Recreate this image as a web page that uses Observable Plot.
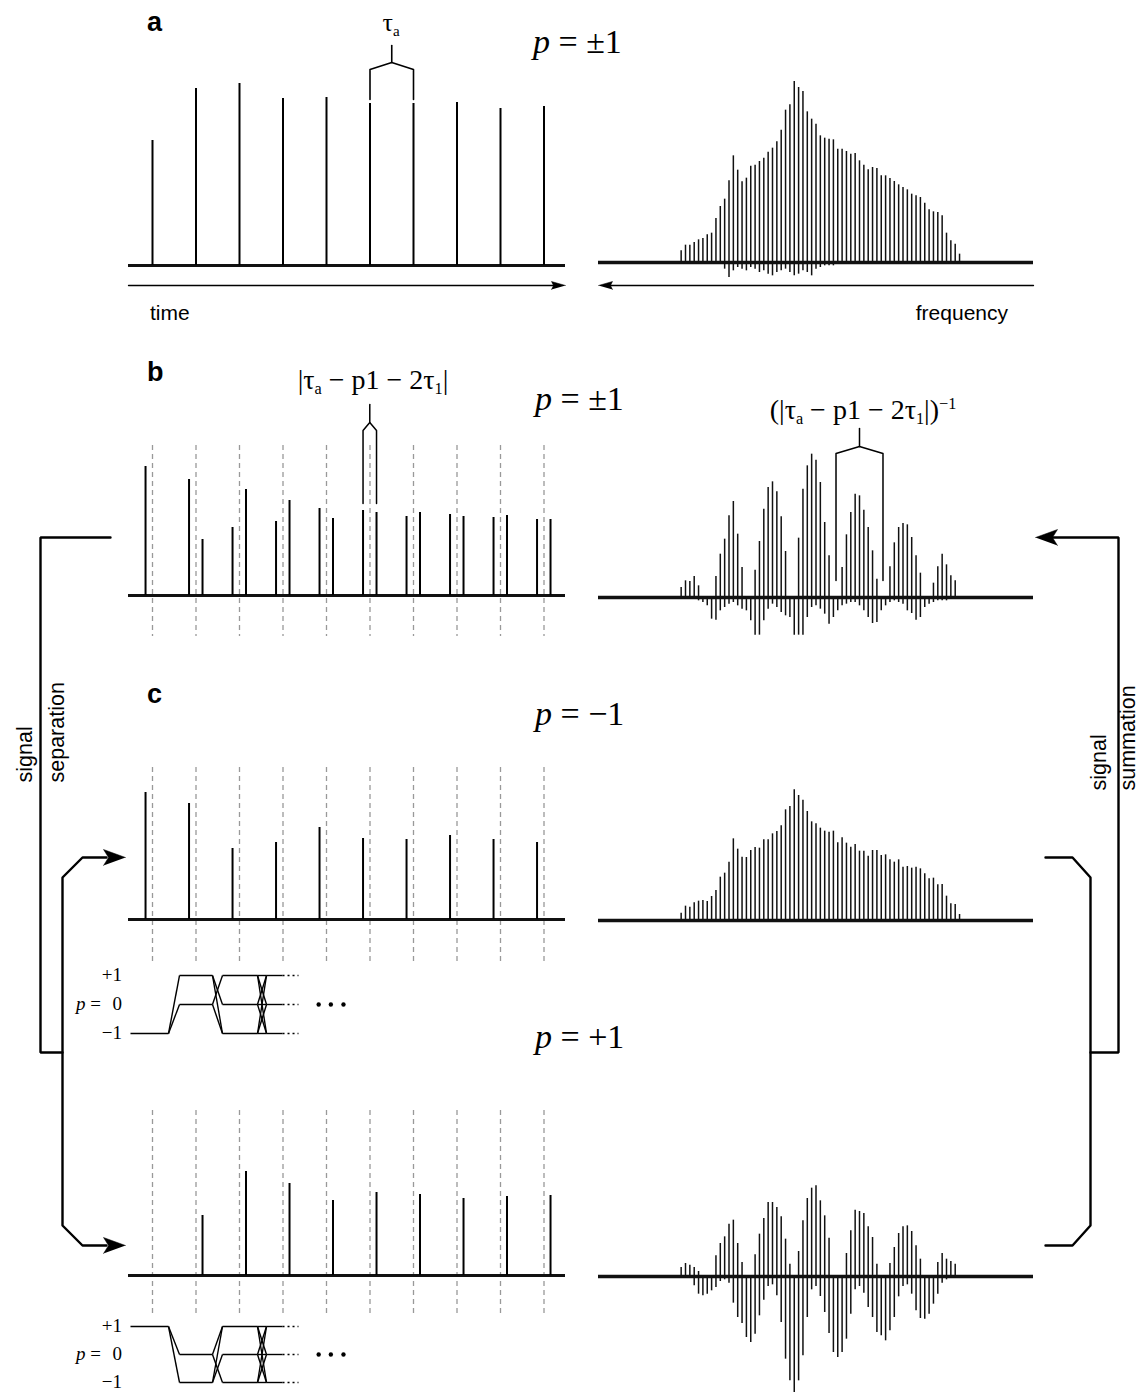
<!DOCTYPE html>
<html><head><meta charset="utf-8">
<script src="https://cdn.jsdelivr.net/npm/d3@7"></script>
<script src="https://cdn.jsdelivr.net/npm/@observablehq/plot@0.6"></script>
<style>
html,body{margin:0;padding:0;background:#fff;overflow:hidden}
#fig{position:relative;width:1142px;height:1393px;overflow:hidden;background:#fff}
.lbl{position:absolute;white-space:nowrap;line-height:1;color:#000}
.lbl sub,.lbl sup{font-size:0.58em;line-height:0;position:relative;vertical-align:baseline}
.lbl sub{top:0.32em}
.lbl sup{top:-0.6em}
</style></head><body><div id="fig"></div><script>
// ---------------- data ----------------
const echoes = [0, 1, 2, 3, 4, 5, 6, 7, 8, 9];              // echo number (units of tau_a)
const echoAmpA      = [125, 177, 182, 167, 168, 162, 162, 163, 157, 159];
const echoAmpBMinus = [129, 116, 68, 74, 87, 85, 79, 81, 78, 76];
const echoAmpBPlus  = [null, 56, 106, 95, 77, 83, 83, 79, 80, 76];
const echoAmpCMinus = [127, 116, 71, 77, 92, 81, 80, 84, 80, 77];
const echoAmpCPlus  = [null, 60, 104, 92, 75, 83, 81, 77, 79, 80];
const shiftMinus = -0.16, shiftPlus = 0.15;                  // echo shift for p = -1 / p = +1 (tau_a units)

const comb = d3.range(65);                                   // comb line index
const specA = [35,52,52,60,68,72,83,88,132,168,190,245,320,277,242,253,289,292,303,313,331,343,362,397,457,473,543,525,513,452,430,415,380,373,370,368,340,340,333,325,327,305,292,278,285,282,260,260,252,243,233,225,218,205,200,195,178,158,152,150,140,88,65,55,25];
const specANeg = [0,0,0,0,0,0,0,0,0,0,20,45,25,15,20,25,15,20,30,25,35,40,30,25,20,30,40,35,25,30,40,20,15,10,10,10,0,0,0,0,0,0,0,0,0,0,0,0,0,0,0,0,0,0,0,0,0,0,0,0,0,0,0,0,0];
const specB = [30,50,48,63,35,0,0,0,63,130,175,245,288,190,90,0,0,82,168,265,330,347,317,242,138,0,0,178,325,395,430,412,345,225,125,0,0,90,188,255,310,305,262,210,140,55,0,0,92,164,210,222,218,180,125,73,0,0,43,92,130,98,65,50,0];
const specBNeg = [0,0,0,5,10,15,25,65,68,40,30,20,15,25,35,40,70,113,113,70,35,20,30,45,55,60,113,113,113,60,30,25,35,50,80,60,40,25,20,15,15,25,40,60,78,75,40,25,15,10,15,20,40,48,68,60,30,20,15,10,10,10,5,0,0];
const specCm = [22,43,40,53,58,60,57,72,90,130,142,175,245,214,190,189,210,219,217,242,242,260,267,284,332,342,392,375,361,327,296,290,277,268,265,268,233,248,232,220,228,208,208,193,210,210,195,197,182,175,182,160,162,157,160,155,140,125,127,107,108,73,50,48,18];
const specCp = [27,39,34,27,15,0,0,0,62,99,119,157,169,99,42,0,0,65,127,174,222,222,207,179,112,37,0,75,167,234,265,272,227,182,115,0,0,0,69,137,199,195,189,149,117,37,0,0,39,87,129,149,152,135,92,52,0,0,0,42,69,52,45,37,0];
const specCpNeg = [0,0,0,28,53,58,53,43,33,15,10,20,80,123,141,183,198,173,118,71,30,25,58,138,248,313,348,313,238,123,40,30,60,108,171,228,243,228,188,113,40,30,50,93,123,168,178,193,163,123,61,30,25,53,103,126,128,113,83,53,20,10,0,0,0];

// coherence-pathway diagram (times in tau_a units)
const pulseWindows = [[0.368, 0.621], [1.379, 1.609], [2.414, 2.621]];
const pathStart = -0.506, pathEnd = 2.989, pathDotsEnd = 3.356;
const pathDots = [3.82, 4.10, 4.39];

// ---------------- layout helpers ----------------
const fig = document.getElementById("fig");
const STYLE = {overflow: "visible", background: "transparent"};
function place(svg, left, top) {
  svg.style.position = "absolute"; svg.style.left = left + "px"; svg.style.top = top + "px";
  fig.appendChild(svg);
}
const TX0 = 128, TW = 437, TPX = 43.5, T0 = 152;
const timeDomain = [(TX0 - T0) / TPX, (TX0 + TW - T0) / TPX];
function timePlot(top, height, base, marksFn) {
  const Y = px => base - px;
  place(Plot.plot({width: TW, height, margin: 0,
    x: {domain: timeDomain, axis: null}, y: {domain: [Y(top + height), Y(top)], axis: null},
    style: STYLE, marks: marksFn(Y)}), TX0, top);
}
const SX0 = 598, SW = 435;
function specPlot(top, height, base, marksFn) {
  const Y = px => (base - px) * 3;
  place(Plot.plot({width: SW, height, margin: 0,
    x: {domain: [-19, 81], axis: null}, y: {domain: [Y(top + height), Y(top)], axis: null},
    style: STYLE, marks: marksFn(Y)}), SX0, top);
}
const serifF = "'Liberation Serif','Times New Roman',serif";
const sansF = "'Liberation Sans',Arial,sans-serif";
function label(html, x, base, size, opts = {}) {
  const serif = opts.sans ? false : true;
  const d = document.createElement("div");
  d.className = "lbl"; d.innerHTML = html;
  d.style.fontFamily = serif ? serifF : sansF;
  d.style.fontSize = size + "px";
  if (opts.bold) d.style.fontWeight = "bold";
  d.style.top = (base - (serif ? 0.8375 : 0.846) * size) + "px";
  d.style.left = x + "px";
  if (opts.anchor === "middle") d.style.transform = "translateX(-50%)";
  if (opts.anchor === "end") d.style.transform = "translateX(-100%)";
  fig.appendChild(d);
}
const bracket = (xl, xr, yFoot, yArm, yApex, yStem) => [
  {z: 0, x: xl, y: yFoot}, {z: 0, x: xl, y: yArm}, {z: 0, x: (xl + xr) / 2, y: yApex},
  {z: 0, x: xr, y: yArm}, {z: 0, x: xr, y: yFoot},
  {z: 1, x: (xl + xr) / 2, y: yApex}, {z: 1, x: (xl + xr) / 2, y: yStem}];

const peaks = (amps, shift) => echoes.map((t, i) => ({t: t + shift, a: amps[i]})).filter(d => d.a != null);
const specRows = (vals) => comb.map((i) => ({i, v: vals[i]})).filter(d => d.v > 0);
const specMarks = (pos, neg) => [
  Plot.ruleY([0], {strokeWidth: 3.6, stroke: "#111"}),
  Plot.ruleX(specRows(pos), {x: "i", y1: 0, y2: "v", strokeWidth: 1.5, stroke: "#111"}),
  ...(neg ? [Plot.ruleX(specRows(neg), {x: "i", y1: 0, y2: d => -d.v, strokeWidth: 1.5, stroke: "#111"})] : [])
];
const timeBase = () => Plot.ruleY([0], {strokeWidth: 3.2, stroke: "#111"});
const dashed = (Y, top, bot) => Plot.ruleX(echoes, {x: d => d, y1: Y(top), y2: Y(bot), stroke: "#999", strokeWidth: 1.3, strokeDasharray: "5,4"});
const peakRule = (rows) => Plot.ruleX(rows, {x: "t", y1: 0, y2: "a", strokeWidth: 2});

// ---------------- panel a ----------------
timePlot(0, 300, 265, Y => [
  timeBase(),
  peakRule(peaks(echoAmpA, 0)),
  Plot.line(bracket(5, 6, Y(99), Y(69), Y(62), Y(45)), {x: "x", y: "y", z: "z", strokeWidth: 1.6})
]);
specPlot(0, 300, 262, Y => specMarks(specA, specANeg));

// ---------------- panel b ----------------
timePlot(380, 270, 595, Y => [
  dashed(Y, 445, 636),
  timeBase(),
  peakRule(peaks(echoAmpBMinus, shiftMinus)),
  peakRule(peaks(echoAmpBPlus, shiftPlus)),
  Plot.line(bracket(5 + shiftMinus, 5 + shiftPlus, Y(503), Y(430), Y(422), Y(404)), {x: "x", y: "y", z: "z", strokeWidth: 1.5})
]);
specPlot(400, 250, 597, Y => [
  ...specMarks(specB, specBNeg),
  Plot.line(bracket(35.6, 46.4, Y(580), Y(453), Y(446), Y(428)), {x: "x", y: "y", z: "z", strokeWidth: 1.5})
]);

// ---------------- panel c ----------------
timePlot(740, 240, 919, Y => [
  dashed(Y, 767, 962),
  timeBase(),
  peakRule(peaks(echoAmpCMinus, shiftMinus))
]);
specPlot(760, 180, 920, Y => specMarks(specCm, null));
timePlot(1090, 250, 1275, Y => [
  dashed(Y, 1110, 1316),
  timeBase(),
  peakRule(peaks(echoAmpCPlus, shiftPlus))
]);
specPlot(1130, 263, 1276, Y => specMarks(specCp, specCpNeg));

// pathway diagrams
function pathSegments(sign) {
  const L = l => l * sign, segs = [];
  const [p1, p2, p3] = pulseWindows;
  segs.push({x1: pathStart, y1: L(1), x2: p1[0], y2: L(1)});
  for (const to of [0, -1]) segs.push({x1: p1[0], y1: L(1), x2: p1[1], y2: L(to)});
  for (const lv of [0, -1]) segs.push({x1: p1[1], y1: L(lv), x2: p2[0], y2: L(lv)});
  for (const [fr, to] of [[0, 1], [0, -1], [-1, 1], [-1, 0]]) segs.push({x1: p2[0], y1: L(fr), x2: p2[1], y2: L(to)});
  for (const lv of [1, 0, -1]) segs.push({x1: p2[1], y1: L(lv), x2: p3[0], y2: L(lv)});
  for (const fr of [1, 0, -1]) for (const to of [1, 0, -1]) segs.push({x1: p3[0], y1: L(fr), x2: p3[1], y2: L(to)});
  for (const lv of [1, 0, -1]) segs.push({x1: p3[1], y1: L(lv), x2: pathEnd, y2: L(lv)});
  return segs;
}
function pathPlot(levelTopPx, sign, SP) {
  const H = 90, top = levelTopPx - 20;
  place(Plot.plot({width: TW, height: H, margin: 0,
    x: {domain: timeDomain, axis: null}, y: {domain: [1 - (H - 20) / SP, 1 + 20 / SP], axis: null},
    style: STYLE,
    marks: [
      Plot.link(pathSegments(sign), {x1: "x1", y1: "y1", x2: "x2", y2: "y2", strokeWidth: 1.4}),
      Plot.link([1, 0, -1], {x1: pathEnd, x2: pathDotsEnd, y1: d => d, y2: d => d, strokeWidth: 1.4, strokeDasharray: "2,3"}),
      Plot.dot(pathDots, {x: d => d, y: 0, r: 2.2, fill: "black", stroke: null})
    ]}), TX0, top);
  label("+1", 122, levelTopPx + 6, 19, {anchor: "end"});
  label("<i>p</i> =", 101, levelTopPx + SP + 6, 19, {anchor: "end"});
  label("0", 122, levelTopPx + SP + 6, 19, {anchor: "end"});
  label("−1", 122, levelTopPx + 2 * SP + 6, 19, {anchor: "end"});
}
pathPlot(975, -1, 29);
pathPlot(1326, 1, 28);

// ---------------- overlay: arrows, brackets ----------------
const linesOv = [
  {id: "so", pts: [[110, 537], [40, 537], [40, 1052], [62, 1052]]},
  {id: "si", pts: [[106, 857], [82, 857], [62, 877], [62, 1225], [82, 1245], [106, 1245]]},
  {id: "ui", pts: [[1045, 857], [1072, 857], [1090, 877], [1090, 1225], [1072, 1245], [1045, 1245]]},
  {id: "uo", pts: [[1090, 1052], [1118, 1052], [1118, 537], [1052, 537]]}
];
const headsOv = [
  {id: "h1", pts: [[125, 857], [103, 849], [108, 857], [103, 865]]},
  {id: "h2", pts: [[125, 1245], [103, 1237], [108, 1245], [103, 1253]]},
  {id: "h3", pts: [[1035, 537], [1057, 529], [1052, 537], [1057, 545]]},
  {id: "h4", pts: [[565, 285], [551, 281], [553, 285], [551, 289]]},
  {id: "h5", pts: [[598, 285], [612, 281], [610, 285], [612, 289]]}
];
const axisOv = [
  {id: "t", pts: [[128, 285], [555, 285]]},
  {id: "f", pts: [[1033, 285], [608, 285]]}
];
const flat = arr => arr.flatMap(o => o.pts.map(([x, y]) => ({id: o.id, x, y})));
const rotTexts = [
  {x: 25, y: 782, t: "signal"}, {x: 57, y: 782, t: "separation"},
  {x: 1099, y: 790, t: "signal"}, {x: 1128, y: 790, t: "summation"}
];
place(Plot.plot({width: 1142, height: 1393, margin: 0,
  x: {domain: [0, 1142], axis: null}, y: {domain: [0, 1393], range: [0, 1393], axis: null},
  style: STYLE,
  marks: [
    Plot.line(flat(linesOv), {x: "x", y: "y", z: "id", strokeWidth: 2.4, strokeLinejoin: "miter"}),
    Plot.line(flat(axisOv), {x: "x", y: "y", z: "id", strokeWidth: 1.3}),
    Plot.line(flat(headsOv), {x: "x", y: "y", z: "id", fill: "black", stroke: "black", strokeWidth: 0.5}),
    Plot.text(rotTexts, {x: "x", y: "y", text: "t", rotate: -90, textAnchor: "start", fontSize: 21.5, fontFamily: sansF, fill: "black"})
  ]}), 0, 0);

// ---------------- labels ----------------
label("a", 147, 32, 27, {sans: true, bold: true});
label("τ<sub>a</sub>", 391, 32, 26, {anchor: "middle"});
label("<i>p</i> = ±1", 533, 53, 34);
label("time", 150, 320, 21, {sans: true});
label("frequency", 1008, 320, 21, {sans: true, anchor: "end"});
label("b", 147, 382, 27, {sans: true, bold: true});
label("|τ<sub>a</sub> − p1 − 2τ<sub>1</sub>|", 373, 389, 28, {anchor: "middle"});
label("<i>p</i> = ±1", 535, 410, 34);
label("(|τ<sub>a</sub> − p1 − 2τ<sub>1</sub>|)<sup>−1</sup>", 863, 419, 28, {anchor: "middle"});
label("c", 147, 704, 27, {sans: true, bold: true});
label("<i>p</i> = −1", 535, 725, 34);
label("<i>p</i> = +1", 535, 1048, 34);
</script></body></html>
